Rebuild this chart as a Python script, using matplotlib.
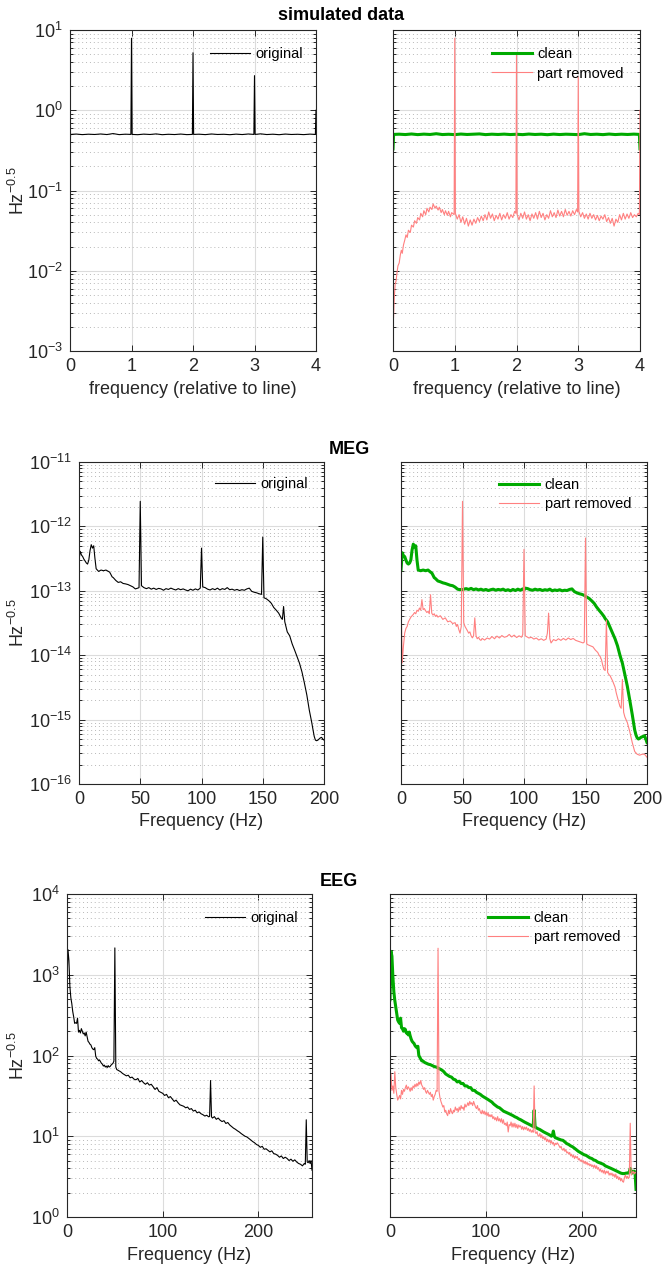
import matplotlib
matplotlib.use('Agg')
import matplotlib.pyplot as plt
from matplotlib.ticker import LogLocator, NullFormatter

plt.rcParams['font.family'] = ['Liberation Sans', 'DejaVu Sans']
plt.rcParams['mathtext.fontset'] = 'custom'
plt.rcParams['mathtext.rm'] = 'Liberation Sans'
plt.rcParams['mathtext.it'] = 'Liberation Sans:italic'
plt.rcParams['mathtext.bf'] = 'Liberation Sans:bold'
plt.rcParams['axes.unicode_minus'] = False

# ---------------- data ----------------
titles = ['simulated data', 'MEG', 'EEG']
xlabels = ['frequency (relative to line)', 'Frequency (Hz)', 'Frequency (Hz)']
ylabel = 'Hz$^{-0.5}$'
series_names = ['original', 'clean', 'part removed']

sim_xticks = [0, 1, 2, 3, 4]
meg_xticks = [0, 50, 100, 150, 200]
eeg_xticks = [0, 100, 200]

sim_original = [
    (0.00, 0.37), (0.01, 0.50), (0.1, 0.505), (0.2, 0.497), (0.3, 0.503), (0.4, 0.499),
    (0.5, 0.506), (0.6, 0.498), (0.7, 0.512), (0.8, 0.497), (0.9, 0.503), (0.99, 0.5),
    (1.0, 7.9), (1.01, 0.5), (1.1, 0.496), (1.2, 0.504), (1.3, 0.499), (1.4, 0.507),
    (1.5, 0.496), (1.6, 0.502), (1.7, 0.498), (1.8, 0.505), (1.9, 0.497), (1.99, 0.5),
    (2.0, 5.2), (2.01, 0.5), (2.1, 0.503), (2.2, 0.497), (2.3, 0.506), (2.4, 0.499),
    (2.5, 0.502), (2.6, 0.496), (2.7, 0.504), (2.8, 0.498), (2.9, 0.506), (2.99, 0.5),
    (3.0, 2.7), (3.01, 0.5), (3.1, 0.508), (3.2, 0.498), (3.3, 0.503), (3.4, 0.496),
    (3.5, 0.505), (3.6, 0.499), (3.7, 0.502), (3.8, 0.497), (3.9, 0.504), (3.99, 0.5),
    (4.0, 1.0)]

sim_clean = [
    (0.00, 0.33), (0.01, 0.50), (0.1, 0.503), (0.2, 0.498), (0.3, 0.506), (0.4, 0.497),
    (0.5, 0.504), (0.6, 0.499), (0.7, 0.51), (0.8, 0.498), (0.9, 0.502), (1.0, 0.497),
    (1.1, 0.505), (1.2, 0.499), (1.3, 0.503), (1.4, 0.507), (1.5, 0.497), (1.6, 0.503),
    (1.7, 0.499), (1.8, 0.504), (1.9, 0.498), (2.0, 0.502), (2.1, 0.497), (2.2, 0.505),
    (2.3, 0.499), (2.4, 0.503), (2.5, 0.496), (2.6, 0.504), (2.7, 0.498), (2.8, 0.503),
    (2.9, 0.5), (3.0, 0.497), (3.1, 0.51), (3.2, 0.499), (3.3, 0.503), (3.4, 0.497),
    (3.5, 0.505), (3.6, 0.498), (3.7, 0.503), (3.8, 0.499), (3.9, 0.504), (3.99, 0.5),
    (4.0, 0.33)]

sim_removed = [
    (0.000, 0.107), (0.008, 0.0026), (0.02, 0.0045), (0.035, 0.0068), (0.05, 0.0075),
    (0.065, 0.0095), (0.08, 0.0115), (0.10, 0.0125), (0.12, 0.016), (0.135, 0.018),
    (0.15, 0.0165), (0.17, 0.021), (0.19, 0.024), (0.21, 0.028), (0.23, 0.026),
    (0.25, 0.032), (0.28, 0.030), (0.30, 0.037), (0.33, 0.035), (0.35, 0.042),
    (0.38, 0.039), (0.40, 0.046), (0.43, 0.043), (0.45, 0.052), (0.48, 0.047),
    (0.50, 0.056), (0.53, 0.050), (0.55, 0.060), (0.58, 0.054), (0.60, 0.062),
    (0.63, 0.058), (0.65, 0.068), (0.68, 0.060), (0.70, 0.064), (0.73, 0.057),
    (0.75, 0.062), (0.78, 0.053), (0.80, 0.058), (0.83, 0.050), (0.85, 0.056),
    (0.88, 0.049), (0.90, 0.055), (0.93, 0.047), (0.95, 0.053), (0.99, 0.050),
    (1.00, 7.9), (1.01, 0.052), (1.04, 0.044), (1.07, 0.050), (1.10, 0.040),
    (1.13, 0.047), (1.16, 0.038), (1.19, 0.045), (1.22, 0.036), (1.25, 0.043),
    (1.28, 0.037), (1.31, 0.044), (1.34, 0.039), (1.37, 0.046), (1.40, 0.041),
    (1.43, 0.048), (1.46, 0.042), (1.49, 0.050), (1.52, 0.043), (1.55, 0.054),
    (1.58, 0.045), (1.61, 0.051), (1.64, 0.042), (1.67, 0.049), (1.70, 0.044),
    (1.73, 0.052), (1.76, 0.043), (1.79, 0.050), (1.82, 0.045), (1.85, 0.053),
    (1.88, 0.044), (1.91, 0.050), (1.94, 0.046), (1.97, 0.055), (1.99, 0.052),
    (2.00, 5.2), (2.01, 0.050), (2.04, 0.043), (2.07, 0.052), (2.10, 0.045),
    (2.13, 0.054), (2.16, 0.044), (2.19, 0.050), (2.22, 0.042), (2.25, 0.051),
    (2.28, 0.045), (2.31, 0.053), (2.34, 0.044), (2.37, 0.055), (2.40, 0.046),
    (2.43, 0.052), (2.46, 0.043), (2.49, 0.050), (2.52, 0.045), (2.55, 0.056),
    (2.58, 0.047), (2.61, 0.053), (2.64, 0.046), (2.67, 0.057), (2.70, 0.048),
    (2.73, 0.055), (2.76, 0.047), (2.79, 0.058), (2.82, 0.049), (2.85, 0.055),
    (2.88, 0.048), (2.91, 0.056), (2.94, 0.050), (2.97, 0.058), (2.99, 0.054),
    (3.00, 2.6), (3.01, 0.055), (3.04, 0.047), (3.07, 0.053), (3.10, 0.045),
    (3.13, 0.051), (3.16, 0.044), (3.19, 0.052), (3.22, 0.045), (3.25, 0.050),
    (3.28, 0.043), (3.31, 0.049), (3.34, 0.042), (3.37, 0.048), (3.40, 0.044),
    (3.43, 0.050), (3.46, 0.041), (3.49, 0.046), (3.52, 0.039), (3.55, 0.045),
    (3.58, 0.036), (3.61, 0.044), (3.64, 0.040), (3.67, 0.050), (3.70, 0.043),
    (3.73, 0.052), (3.76, 0.044), (3.79, 0.051), (3.82, 0.045), (3.85, 0.053),
    (3.88, 0.046), (3.91, 0.050), (3.94, 0.047), (3.97, 0.052), (3.99, 0.050),
    (4.00, 1.0)]

# MEG values, in units of 1e-13 (original, clean) and 1e-14 (part removed)
meg_unit_a = 1e-13
meg_unit_b = 1e-14
meg_original = [
    (0, 3.0), (1, 4.1), (2, 3.6), (3, 3.4), (4, 3.1), (5, 2.9), (6, 2.7), (7, 2.6), (8, 3.0),
    (9, 4.2), (10, 5.2), (11, 4.6), (12, 5.0), (13, 3.2), (14, 2.2), (16, 2.0), (18, 2.1),
    (20, 2.05), (22, 2.1), (24, 2.0), (25, 1.95), (26, 1.8), (27, 1.65), (28, 1.6), (30, 1.45),
    (32, 1.35), (34, 1.38), (36, 1.3), (38, 1.28), (40, 1.25), (42, 1.2), (44, 1.15),
    (46, 1.07), (48, 1.1), (49, 1.12), (50, 24.5), (51, 1.2), (53, 1.12), (55, 1.08),
    (57, 1.12), (59, 1.06), (61, 1.1), (63, 1.05), (65, 1.09), (67, 1.07), (69, 1.02),
    (71, 1.08), (73, 1.05), (75, 1.1), (77, 1.06), (79, 1.03), (81, 1.08), (83, 1.04),
    (85, 1.07), (87, 1.03), (89, 1.0), (91, 1.06), (93, 1.02), (95, 1.07), (97, 1.03),
    (99, 1.1), (100, 4.6), (101, 1.15), (103, 1.12), (105, 1.06), (107, 1.03), (109, 1.08),
    (111, 1.04), (113, 1.1), (115, 1.03), (117, 1.08), (119, 1.05), (121, 1.12), (123, 1.04),
    (125, 1.06), (127, 1.02), (129, 1.05), (131, 1.01), (133, 1.04), (135, 1.02), (137, 1.07),
    (139, 1.1), (141, 0.98), (143, 0.95), (145, 0.93), (147, 0.9), (149, 0.88), (150, 6.8),
    (151, 0.78), (153, 0.75), (155, 0.7), (157, 0.64), (159, 0.55), (161, 0.5), (163, 0.45),
    (165, 0.38), (166, 0.36), (167, 0.57), (168, 0.33), (170, 0.23), (172, 0.2), (174, 0.15),
    (176, 0.12), (178, 0.095), (180, 0.075), (182, 0.055), (184, 0.037), (186, 0.024),
    (188, 0.014), (190, 0.009), (191, 0.007), (192, 0.0055), (193, 0.0048), (194, 0.0047),
    (195, 0.0048), (196, 0.005), (197, 0.0052), (198, 0.0053), (199, 0.005), (200, 0.0048)]

meg_clean = [
    (0, 2.1), (1, 3.9), (2, 3.5), (3, 3.4), (4, 3.0), (5, 2.7), (6, 2.6), (7, 2.7), (8, 3.0),
    (9, 4.3), (10, 5.3), (11, 4.8), (12, 5.0), (13, 3.0), (14, 2.1), (16, 2.05), (18, 2.1),
    (20, 2.05), (22, 2.1), (24, 1.95), (25, 1.9), (26, 1.75), (27, 1.6), (28, 1.55), (30, 1.42),
    (32, 1.38), (34, 1.33), (36, 1.3), (38, 1.26), (40, 1.22), (42, 1.2), (44, 1.14),
    (46, 1.06), (48, 1.04), (49, 1.05), (50, 1.04), (51, 1.06), (53, 1.08), (55, 1.05),
    (57, 1.09), (59, 1.04), (61, 1.07), (63, 1.03), (65, 1.06), (67, 1.02), (69, 1.05),
    (71, 1.01), (73, 1.04), (75, 1.06), (77, 1.02), (79, 1.05), (81, 1.03), (83, 1.06),
    (85, 1.01), (87, 1.04), (89, 1.0), (91, 1.05), (93, 1.01), (95, 1.06), (97, 1.02),
    (99, 1.07), (100, 1.03), (101, 1.1), (103, 1.08), (105, 1.04), (107, 1.02), (109, 1.06),
    (111, 1.03), (113, 1.05), (115, 1.01), (117, 1.04), (119, 1.02), (121, 1.06), (123, 1.0),
    (125, 1.03), (127, 1.01), (129, 1.04), (131, 1.0), (133, 1.02), (135, 1.01), (137, 1.05),
    (139, 1.07), (141, 0.97), (143, 0.93), (145, 0.9), (147, 0.88), (149, 0.85), (150, 0.82),
    (151, 0.8), (153, 0.76), (155, 0.7), (157, 0.64), (159, 0.56), (161, 0.5), (163, 0.45),
    (165, 0.4), (166, 0.37), (167, 0.35), (168, 0.33), (170, 0.27), (172, 0.22), (174, 0.18),
    (176, 0.14), (178, 0.1), (180, 0.075), (182, 0.05), (184, 0.033), (186, 0.02),
    (188, 0.012), (190, 0.0069), (191, 0.0058), (192, 0.0052), (193, 0.005), (194, 0.0051),
    (195, 0.0053), (196, 0.0054), (197, 0.0055), (198, 0.0056), (199, 0.005), (200, 0.0044)]

meg_removed = [
    (0, 7.3), (1, 0.76), (2, 1.4), (3, 2.2), (4, 2.6), (5, 2.8), (6, 3.3), (7, 3.6), (8, 3.9),
    (9, 4.1), (10, 4.3), (11, 4.6), (12, 4.4), (13, 5.0), (14, 4.8), (15, 5.4), (16, 5.0),
    (17, 7.3), (18, 5.1), (19, 5.3), (20, 4.9), (21, 4.6), (22, 4.8), (23, 4.4), (24, 8.7),
    (25, 4.5), (26, 4.2), (27, 4.4), (28, 4.0), (29, 4.2), (30, 3.9), (32, 4.1), (34, 3.6),
    (36, 3.8), (38, 3.3), (40, 3.4), (42, 3.1), (44, 3.2), (45, 2.8), (46, 3.0), (47, 2.5),
    (48, 2.2), (49, 2.8), (50, 245), (51, 3.2), (52, 2.8), (53, 2.6), (54, 2.4), (55, 2.2),
    (56, 2.3), (57, 2.0), (58, 1.86), (59, 2.0), (60, 3.8), (61, 2.0), (62, 1.8), (63, 1.9),
    (64, 1.75), (65, 1.7), (66, 1.82), (68, 1.72), (70, 1.85), (72, 1.78), (74, 1.95),
    (76, 1.8), (78, 1.98), (80, 1.85), (82, 2.02), (84, 1.9), (86, 1.95), (88, 2.1),
    (90, 1.92), (92, 2.05), (94, 1.88), (96, 2.0), (98, 1.9), (99, 2.1), (100, 44),
    (101, 2.0), (102, 1.95), (104, 1.85), (106, 1.9), (108, 1.78), (110, 1.85), (112, 1.72),
    (114, 1.8), (116, 1.7), (118, 1.78), (119, 2.2), (120, 4.5), (121, 1.8), (122, 1.55),
    (124, 1.75), (126, 1.68), (128, 1.8), (130, 1.7), (132, 1.82), (134, 1.72), (136, 1.85),
    (138, 1.75), (140, 1.82), (142, 1.7), (144, 1.65), (146, 1.6), (148, 1.55), (149, 1.6),
    (150, 66), (151, 1.5), (152, 1.45), (154, 1.4), (156, 1.35), (158, 1.2), (160, 1.1),
    (161, 1.0), (162, 0.95), (163, 0.85), (164, 0.7), (165, 0.6), (166, 0.58), (167, 3.5),
    (168, 0.54), (169, 0.5), (170, 0.48), (172, 0.4), (174, 0.32), (175, 0.26), (176, 0.22),
    (178, 0.16), (179, 0.15), (180, 0.42), (181, 0.13), (182, 0.11), (184, 0.09),
    (186, 0.065), (188, 0.044), (190, 0.032), (192, 0.029), (194, 0.028), (196, 0.029),
    (198, 0.029), (200, 0.026)]

eeg_original = [
    (0, 800), (1, 2050), (2, 1500), (3, 720), (4, 520), (5, 440), (6, 350), (7, 300), (8, 250),
    (9, 255), (10, 250), (11, 290), (12, 195), (13, 205), (14, 190), (15, 215), (16, 200),
    (17, 185), (18, 190), (19, 175), (20, 195), (21, 170), (22, 150), (23, 145), (24, 138),
    (25, 135), (26, 125), (27, 120), (28, 118), (29, 125), (30, 98), (31, 92), (32, 90),
    (33, 86), (34, 88), (35, 84), (36, 80), (37, 78), (38, 74), (39, 76), (40, 72), (41, 74),
    (42, 71), (43, 75), (44, 72), (45, 73), (46, 76), (47, 78), (48, 80), (49, 85), (50, 2150),
    (51, 72), (52, 67), (54, 65), (56, 63), (58, 60), (60, 58), (62, 56), (64, 57), (66, 53),
    (68, 54), (70, 51), (72, 50), (74, 52), (76, 47), (78, 49), (80, 46), (82, 44), (84, 46),
    (86, 43), (88, 44), (90, 41), (92, 38), (94, 40), (96, 36), (98, 35), (100, 34), (102, 32),
    (104, 33), (106, 30), (108, 31), (110, 29), (112, 27), (114, 28), (116, 26), (118, 24.5),
    (120, 24), (122, 23.5), (124, 22.5), (126, 23), (128, 21.5), (130, 22), (132, 20.5),
    (134, 21), (136, 19.5), (138, 20), (140, 19), (142, 18.5), (144, 17.8), (146, 18.2),
    (148, 17.4), (149, 17.6), (150, 49), (151, 17.4), (152, 16.8), (154, 17.5), (156, 16.2),
    (158, 16.8), (160, 15.8), (162, 15.2), (164, 15.6), (166, 14.4), (168, 14.8), (170, 13.8),
    (172, 13.2), (174, 12.6), (176, 12.2), (178, 11.7), (180, 11.3), (182, 10.8), (184, 10.4),
    (186, 10.0), (188, 9.8), (190, 9.4), (192, 9.0), (194, 8.6), (196, 8.3), (198, 7.9),
    (200, 7.7), (202, 7.3), (204, 7.5), (206, 6.9), (208, 7.0), (210, 6.7), (212, 6.4),
    (214, 6.6), (216, 6.1), (218, 6.0), (220, 5.8), (222, 5.5), (224, 5.7), (226, 5.3),
    (228, 5.5), (230, 5.3), (232, 5.0), (234, 5.2), (236, 4.9), (238, 5.1), (240, 4.8),
    (242, 4.6), (244, 4.5), (246, 4.3), (248, 4.6), (249, 4.5), (250, 16), (251, 4.8),
    (252, 4.7), (253, 5.0), (254, 4.6), (255, 5.0), (256, 3.8)]

eeg_clean = [
    (0, 490), (1, 1950), (2, 1700), (3, 940), (4, 615), (5, 480), (6, 400), (7, 330), (8, 275),
    (9, 260), (10, 250), (11, 290), (12, 220), (13, 215), (14, 200), (15, 215), (16, 210),
    (17, 190), (18, 190), (19, 180), (20, 195), (21, 175), (22, 160), (23, 150), (24, 145),
    (25, 141), (26, 133), (27, 128), (28, 125), (29, 130), (30, 100), (31, 95), (32, 90),
    (33, 86), (34, 86), (35, 84), (36, 82), (38, 80), (40, 78), (42, 77), (44, 75), (46, 73),
    (48, 72), (50, 70), (52, 68), (54, 66), (56, 63), (58, 59), (60, 57), (62, 55), (64, 54),
    (66, 51), (68, 50), (70, 47), (72, 48), (74, 45), (76, 45), (78, 42), (80, 42), (82, 40),
    (84, 40), (86, 37), (88, 37), (90, 35), (92, 34), (94, 33), (96, 31.5), (98, 30.5),
    (100, 29.5), (102, 28.5), (104, 27.5), (106, 26.5), (108, 25), (110, 24), (112, 23),
    (114, 22.5), (116, 21.5), (118, 20.5), (120, 20), (122, 19.5), (124, 19), (126, 18.5),
    (128, 18), (130, 17.4), (132, 17), (134, 16.4), (136, 16), (138, 15.5), (140, 15),
    (142, 14.6), (144, 14.2), (146, 13.8), (148, 13.4), (149, 13.2), (150, 21), (151, 13),
    (152, 12.8), (154, 12.4), (156, 12.1), (158, 11.7), (160, 11.3), (162, 11.0), (164, 10.7),
    (166, 10.4), (168, 10.0), (169, 10.3), (170, 11.6), (171, 10.0), (172, 9.6), (174, 9.4),
    (176, 9.2), (178, 9.0), (180, 8.9), (182, 8.5), (184, 8.1), (186, 7.9), (188, 7.6),
    (190, 7.4), (192, 7.1), (194, 6.8), (196, 6.5), (198, 6.3), (200, 6.1), (202, 5.9),
    (204, 5.8), (206, 5.6), (208, 5.4), (210, 5.3), (212, 5.1), (214, 5.0), (216, 4.8),
    (218, 4.7), (220, 4.6), (222, 4.5), (224, 4.3), (226, 4.2), (228, 4.1), (230, 4.0),
    (232, 3.9), (234, 3.8), (236, 3.7), (238, 3.6), (240, 3.5), (242, 3.45), (244, 3.45),
    (246, 3.5), (248, 3.5), (249, 3.6), (250, 4.0), (251, 3.7), (252, 3.5), (253, 3.6),
    (254, 3.7), (255, 3.6), (256, 2.2)]

eeg_removed = [
    (0, 25), (1, 60), (2, 37), (3, 42), (4, 34), (5, 63), (6, 40), (7, 33), (8, 28), (9, 30),
    (10, 32), (11, 29), (12, 37), (13, 33), (14, 38), (15, 36), (16, 40), (17, 43), (18, 38),
    (19, 41), (20, 39), (21, 36), (22, 40), (23, 37), (24, 42), (25, 40), (26, 44), (27, 41),
    (28, 45), (29, 42), (30, 47), (31, 44), (32, 49), (33, 43), (34, 41), (35, 38), (36, 40),
    (37, 36), (38, 34), (39, 37), (40, 35), (41, 33), (42, 35), (43, 31), (44, 33), (45, 28),
    (46, 31), (47, 33), (48, 37), (49, 36), (50, 2130), (51, 36), (52, 30), (53, 27), (54, 25),
    (55, 23), (56, 24), (57, 20), (58, 21), (59, 19), (60, 18), (61, 21), (62, 19), (63, 22),
    (64, 20), (65, 19), (66, 21), (67, 20), (68, 23), (69, 21), (70, 22), (71, 20), (72, 23),
    (73, 21), (74, 24), (75, 22), (76, 23), (77, 21), (78, 25), (79, 23), (80, 24), (81, 26),
    (82, 24), (83, 27), (84, 25), (85, 26), (86, 24), (87, 27), (88, 25), (89, 23), (90, 22),
    (91, 24), (92, 21), (93, 22), (94, 20), (95, 19), (96, 21), (97, 19), (98, 20.5),
    (99, 18.5), (100, 20), (101, 18), (102, 19.5), (103, 17.5), (104, 18.5), (105, 17.4),
    (106, 18.5), (107, 16.5), (108, 17.5), (109, 16), (110, 17), (111, 15.5), (112, 17.5),
    (113, 15.5), (114, 16.5), (115, 15), (116, 16.5), (117, 14.5), (118, 16), (119, 14),
    (120, 14.5), (121, 13.5), (122, 15), (123, 11.3), (124, 14), (125, 13.5), (126, 15),
    (127, 13), (128, 14.5), (129, 13), (130, 14.5), (131, 12.8), (132, 14), (133, 12.5),
    (134, 13.8), (135, 13), (136, 13.5), (137, 12.2), (138, 13.2), (139, 12), (140, 13),
    (141, 12.2), (142, 13), (143, 11.8), (144, 12.5), (145, 11.5), (146, 12.2), (147, 11.2),
    (148, 11.8), (149, 11.2), (150, 42), (151, 11.3), (152, 10.8), (153, 11.4), (154, 10.2),
    (155, 10.0), (156, 10.8), (157, 9.6), (158, 10.4), (159, 9.3), (160, 9.9), (161, 9.0),
    (162, 9.6), (163, 8.6), (164, 9.2), (165, 8.5), (166, 9.0), (167, 8.2), (168, 8.8),
    (169, 8.0), (170, 8.4), (171, 7.6), (172, 8.2), (173, 7.9), (174, 8.3), (175, 8.0),
    (176, 7.6), (177, 7.2), (178, 7.5), (179, 6.9), (180, 6.7), (181, 7.1), (182, 6.5),
    (183, 6.8), (184, 6.2), (185, 6.4), (186, 6.0), (187, 6.3), (188, 5.7), (189, 6.0),
    (190, 5.5), (191, 5.8), (192, 5.3), (193, 5.7), (194, 5.4), (195, 5.6), (196, 5.1),
    (197, 5.3), (198, 4.9), (199, 5.1), (200, 4.8), (201, 5.0), (202, 4.6), (203, 4.9),
    (204, 4.5), (205, 4.8), (206, 4.4), (207, 4.6), (208, 4.3), (209, 4.5), (210, 4.2),
    (211, 4.4), (212, 4.1), (213, 4.4), (214, 4.0), (215, 4.3), (216, 3.9), (217, 4.1),
    (218, 3.7), (219, 3.9), (220, 3.6), (221, 3.8), (222, 3.5), (223, 3.8), (224, 3.4),
    (225, 3.7), (226, 3.5), (227, 3.7), (228, 3.3), (229, 3.5), (230, 3.3), (231, 3.5),
    (232, 3.2), (233, 3.4), (234, 3.1), (235, 3.4), (236, 3.0), (237, 3.2), (238, 2.9),
    (239, 3.1), (240, 2.8), (241, 3.0), (242, 2.75), (243, 2.7), (244, 3.1), (245, 3.3),
    (246, 3.0), (247, 3.2), (248, 3.0), (249, 3.1), (250, 14.5), (251, 3.3), (252, 3.5),
    (253, 3.7), (254, 3.4), (255, 3.6), (256, 3.5)]

# ---------------- styling ----------------
BLACK = '#000000'
GREEN = '#00AA00'
RED = '#FF8080'
TXT = '#262626'

W, H = 662, 1269
fig = plt.figure(figsize=(W / 100, H / 100), dpi=100)


def px_axes(x0, y0, x1, y1):
    return fig.add_axes([x0 / W, 1 - y1 / H, (x1 - x0) / W, (y1 - y0) / H])


def unzip(pairs, unit=1.0):
    return [p[0] for p in pairs], [p[1] * unit for p in pairs]


def style(ax, xlim, xticks, ylim, left, xlabel):
    ax.set_yscale('log')
    ax.set_xlim(*xlim)
    ax.set_ylim(*ylim)
    ax.set_xticks(xticks)
    ax.yaxis.set_major_locator(LogLocator(base=10, numticks=20))
    ax.yaxis.set_minor_locator(LogLocator(base=10, subs=range(2, 10), numticks=20))
    ax.yaxis.set_minor_formatter(NullFormatter())
    ax.grid(True, which='major', color='#dcdcdc', linewidth=0.8, linestyle='-')
    ax.grid(True, which='minor', axis='y', color='#b8b8b8', linewidth=0.7,
            linestyle=(0, (1, 3)))
    ax.set_axisbelow(True)
    ax.tick_params(which='both', direction='in', top=True, right=True,
                   colors=TXT, labelsize=13, width=0.7)
    ax.tick_params(which='major', length=4)
    ax.tick_params(which='minor', length=2.5)
    ax.tick_params(axis='x', pad=5)
    ax.tick_params(axis='y', pad=5)
    for s in ax.spines.values():
        s.set_color(TXT)
        s.set_linewidth(0.8)
    ax.set_xlabel(xlabel, fontsize=13, color=TXT, labelpad=4)
    if left:
        ax.set_ylabel(ylabel, fontsize=13, color=TXT)
    else:
        ax.tick_params(labelleft=False)


def leg(ax, anchor):
    ax.legend(loc='upper right', bbox_to_anchor=anchor, frameon=False, fontsize=10.5,
              handlelength=2.75, handletextpad=0.35, labelspacing=0.36,
              borderpad=0, borderaxespad=0)


# Row 1: simulated data
ax = px_axes(70, 30, 316, 351)
x, y = unzip(sim_original)
ax.plot(x, y, color=BLACK, lw=0.8, label=series_names[0])
style(ax, (0, 4), sim_xticks, (1e-3, 1e1), True, xlabels[0])
ax.yaxis.set_label_coords(-0.171, 0.5)
leg(ax, (0.947, 0.946))

ax = px_axes(393, 30, 640, 351)
x, y = unzip(sim_clean)
ax.plot(x, y, color=GREEN, lw=2.2, label=series_names[1])
x, y = unzip(sim_removed)
ax.plot(x, y, color=RED, lw=0.8, label=series_names[2])
style(ax, (0, 4), sim_xticks, (1e-3, 1e1), False, xlabels[0])
leg(ax, (0.935, 0.946))

# Row 2: MEG
ax = px_axes(79, 462, 324, 784)
x, y = unzip(meg_original, meg_unit_a)
ax.plot(x, y, color=BLACK, lw=0.8, label=series_names[0])
style(ax, (0, 200), meg_xticks, (1e-16, 1e-11), True, xlabels[1])
ax.yaxis.set_label_coords(-0.208, 0.5)
leg(ax, (0.935, 0.954))

ax = px_axes(401, 462, 647, 784)
x, y = unzip(meg_clean, meg_unit_a)
ax.plot(x, y, color=GREEN, lw=2.2, label=series_names[1])
x, y = unzip(meg_removed, meg_unit_b)
ax.plot(x, y, color=RED, lw=0.8, label=series_names[2])
style(ax, (0, 200), meg_xticks, (1e-16, 1e-11), False, xlabels[1])
leg(ax, (0.935, 0.95))

# Row 3: EEG
ax = px_axes(67, 894, 312, 1217)
x, y = unzip(eeg_original)
ax.plot(x, y, color=BLACK, lw=0.8, label=series_names[0])
style(ax, (0, 256), eeg_xticks, (1e0, 1e4), True, xlabels[2])
ax.yaxis.set_label_coords(-0.159, 0.5)
leg(ax, (0.943, 0.948))

ax = px_axes(390, 894, 636, 1217)
x, y = unzip(eeg_clean)
ax.plot(x, y, color=GREEN, lw=2.2, label=series_names[1])
x, y = unzip(eeg_removed)
ax.plot(x, y, color=RED, lw=0.8, label=series_names[2])
style(ax, (0, 256), eeg_xticks, (1e0, 1e4), False, xlabels[2])
leg(ax, (0.935, 0.948))

# Row titles
for txt, (cx, cy) in zip(titles, [(341, 16), (349, 449), (339, 882)]):
    fig.text(cx / W, 1 - cy / H, txt, ha='center', va='center', fontsize=13,
             fontweight='bold', color='#000000')

fig.savefig('out.png', dpi=100, facecolor='white')
